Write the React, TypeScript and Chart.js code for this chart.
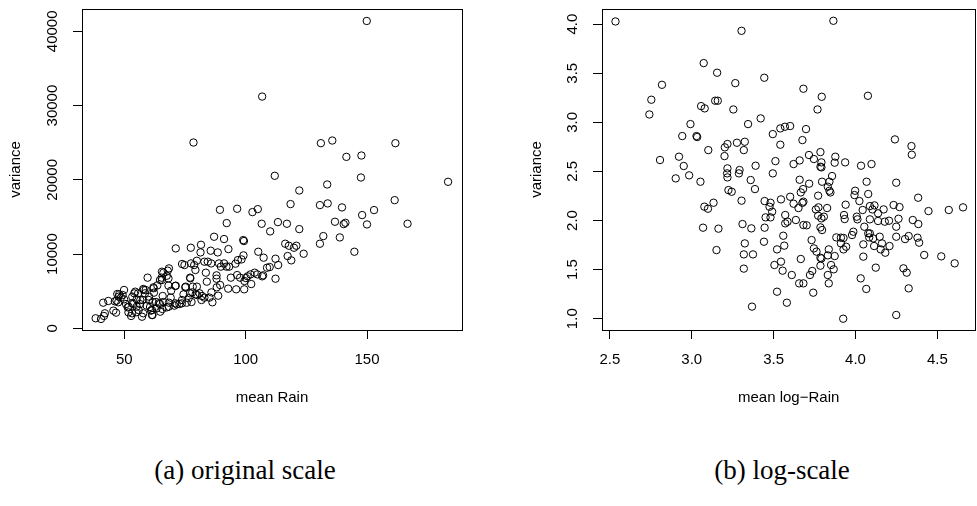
import React, { useEffect, useRef } from "react";
import { Chart, registerables } from "chart.js";

Chart.register(...registerables);

// (a) original scale
const rainMean = [
  149.9, 106.8, 78.5, 131.0, 135.7, 161.7, 141.5, 147.7, 147.5, 112.0, 183.4, 133.6, 122.1, 161.4, 130.6, 133.8,
  118.5, 139.7, 152.9, 148.0, 150.0, 166.7, 136.8, 140.4, 141.1, 138.8, 144.8, 132.0, 130.6, 122.1, 123.9, 116.3,
  117.8, 119.9, 120.9, 117.3, 118.8, 113.3, 117.0, 106.6, 110.1, 102.8, 105.0, 96.5, 89.4, 92.2, 87.0, 91.1,
  99.0, 99.3, 92.9, 88.5, 85.6, 81.6, 77.4, 71.2, 81.4, 105.2, 107.4, 112.3, 113.4, 112.3, 108.8, 109.9,
  106.8, 107.2, 104.8, 103.7, 102.0, 100.8, 102.3, 100.1, 99.5, 99.4, 99.1, 98.3, 96.8, 95.8, 96.5, 97.7,
  96.1, 93.9, 93.2, 92.1, 91.1, 89.8, 89.0, 88.0, 88.0, 89.5, 88.1, 85.9, 86.3, 88.7, 92.8, 85.8,
  84.4, 83.0, 79.9, 78.8, 77.5, 74.8, 79.3, 83.6, 77.1, 84.0, 75.3, 78.2, 79.9, 78.0, 77.1, 79.4,
  81.0, 82.0, 83.0, 81.8, 85.1, 74.4, 77.7, 75.7, 73.7, 72.7, 71.6, 70.6, 67.5, 68.4, 69.1, 69.3,
  71.2, 68.2, 68.2, 67.5, 67.9, 68.4, 66.1, 65.4, 64.7, 63.6, 62.0, 62.2, 65.8, 66.1, 64.7, 63.1,
  61.7, 63.3, 65.7, 60.6, 61.6, 59.6, 57.8, 58.8, 60.2, 57.6, 56.5, 57.8, 54.8, 54.1, 53.3, 55.1,
  55.7, 53.7, 55.1, 52.8, 51.7, 51.4, 50.7, 49.9, 49.3, 49.9, 48.6, 47.5, 47.9, 47.1, 46.8, 46.6,
  45.5, 46.1, 43.4, 41.3, 42.0, 41.6, 40.4, 38.2, 59.2, 61.0, 58.5, 47.7, 54.5, 58.0, 65.5, 65.5,
  62.1, 71.0, 75.1, 77.2, 73.8, 51.8, 53.2, 56.6, 60.1, 64.2, 68.3, 71.0, 73.8, 76.5, 80.0, 53.2,
  55.9, 61.4, 64.8, 57.3, 61.4,
];
const rainVar = [
  41390, 31210, 25020, 24930, 25290, 24930, 23090, 23270, 20310, 20540, 19730, 19370, 18560, 17260, 16590, 16820,
  16730, 16280, 15920, 15250, 13990, 14080, 14350, 14030, 14210, 12240, 10310, 12420, 11390, 13360, 10040, 11390,
  11120, 10850, 11120, 9730, 9150, 14300, 14080, 14080, 13050, 15650, 16050, 16100, 15960, 14170, 12330, 12020,
  11880, 11750, 10670, 10220, 10450, 11250, 10850, 10760, 10220, 10310, 9510, 9370, 8520, 6680, 8160, 8250,
  7000, 7130, 7260, 7490, 7260, 7000, 5960, 6770, 6370, 5250, 9820, 9280, 9190, 8700, 7170, 6820,
  5250, 6820, 8300, 8300, 8740, 8300, 8740, 7130, 6680, 5830, 5520, 4840, 3500, 4390, 5340, 8740,
  8970, 8970, 9100, 8520, 8740, 8520, 7850, 7490, 6820, 6280, 5610, 5610, 5610, 4840, 4710, 4570,
  4710, 4350, 4130, 3810, 4130, 4570, 3540, 3450, 3360, 3270, 3230, 3050, 2820, 3450, 4130, 5070,
  5740, 5740, 6730, 7080, 7760, 8070, 7490, 6820, 6500, 5780, 5520, 4800, 4350, 3540, 3270, 3540,
  3540, 2690, 2600, 2870, 1790, 6820, 5290, 5160, 4260, 3810, 3270, 2020, 2150, 4710, 4260, 3900,
  4710, 3270, 2910, 1660, 2150, 2820, 3270, 3900, 4480, 5160, 4130, 3500, 4570, 4620, 3720, 2110,
  2380, 3630, 3680, 3450, 2020, 1660, 1260, 1350, 3050, 2380, 4710, 4260, 4930, 5160, 7620, 6500,
  5390, 5700, 5520, 6730, 8660, 2910, 3370, 3810, 3810, 3370, 2910, 3370, 3810, 4040, 4480, 2020,
  2460, 2460, 2240, 1560, 1790,
];

// (b) log-scale
const logMean = [
  2.534, 3.865, 3.304, 3.073, 3.155, 3.443, 3.266, 2.818, 2.753, 2.741, 3.682, 3.794, 4.076, 3.057, 3.079, 3.143,
  3.159, 3.254, 3.768, 3.421, 3.344, 2.992, 2.942, 3.029, 3.033, 3.541, 3.569, 3.601, 3.698, 3.495, 3.676, 3.541,
  4.241, 3.276, 3.324, 3.218, 3.202, 3.101, 3.318, 4.342, 4.344, 2.806, 2.922, 3.200, 3.716, 3.786, 3.877, 2.951,
  3.390, 3.511, 3.622, 3.659, 3.746, 3.792, 3.786, 3.792, 3.873, 3.937, 4.034, 4.098, 4.249, 2.902, 2.984, 3.053,
  3.218, 3.216, 3.218, 3.292, 3.288, 3.360, 3.386, 3.495, 3.659, 3.717, 3.796, 3.857, 3.841, 3.831, 3.841, 3.847,
  4.068, 3.224, 3.244, 3.680, 3.666, 3.772, 3.998, 3.994, 4.078, 4.383, 3.601, 3.545, 3.304, 3.133, 3.077, 3.099,
  3.445, 3.481, 3.475, 3.491, 3.622, 3.682, 3.676, 3.652, 3.636, 3.571, 3.571, 3.585, 3.758, 3.774, 3.827, 3.772,
  3.807, 3.792, 3.940, 4.024, 4.044, 4.008, 4.012, 3.930, 3.934, 4.088, 4.116, 4.104, 4.172, 4.233, 4.269, 4.446,
  4.570, 4.657, 4.088, 4.138, 4.138, 4.179, 4.205, 4.263, 4.350, 4.384, 4.249, 4.054, 4.078, 4.088, 4.084, 4.108,
  4.148, 4.114, 4.162, 4.154, 4.182, 4.208, 4.249, 4.303, 4.325, 4.379, 4.389, 4.420, 4.524, 4.606, 4.293, 4.313,
  4.325, 4.249, 3.925, 4.032, 4.066, 4.124, 4.048, 4.048, 3.987, 3.979, 3.943, 3.927, 3.911, 3.927, 3.911, 3.883,
  3.873, 3.867, 3.851, 3.837, 3.831, 3.831, 3.837, 3.786, 3.786, 3.792, 3.796, 3.786, 3.762, 3.746, 3.732, 3.736,
  3.722, 3.742, 3.682, 3.656, 3.666, 3.702, 3.682, 3.611, 3.581, 3.521, 3.545, 3.555, 3.505, 3.521, 3.565, 3.559,
  3.441, 3.445, 3.451, 3.481, 3.368, 3.374, 3.324, 3.318, 3.318, 3.310, 3.364, 3.151, 3.163, 3.069,
];
const logVar = [
  4.027, 4.034, 3.932, 3.603, 3.505, 3.454, 3.399, 3.382, 3.230, 3.080, 3.342, 3.260, 3.270, 3.165, 3.142, 3.220,
  3.220, 3.131, 3.131, 3.040, 2.982, 2.982, 2.860, 2.860, 2.850, 2.938, 2.955, 2.962, 2.931, 2.880, 2.819, 2.772,
  2.826, 2.792, 2.802, 2.779, 2.745, 2.717, 2.717, 2.758, 2.670, 2.616, 2.650, 2.656, 2.667, 2.697, 2.650, 2.555,
  2.558, 2.605, 2.575, 2.612, 2.626, 2.592, 2.548, 2.541, 2.589, 2.592, 2.558, 2.575, 2.385, 2.429, 2.460, 2.395,
  2.531, 2.480, 2.439, 2.514, 2.480, 2.412, 2.320, 2.480, 2.415, 2.375, 2.395, 2.453, 2.395, 2.344, 2.303, 2.286,
  2.395, 2.310, 2.293, 2.320, 2.286, 2.253, 2.303, 2.259, 2.270, 2.232, 2.242, 2.215, 2.202, 2.181, 2.141, 2.120,
  2.198, 2.181, 2.140, 2.090, 2.171, 2.192, 2.180, 2.127, 2.005, 2.056, 1.971, 1.988, 2.113, 2.134, 2.127, 2.049,
  2.039, 2.022, 2.161, 2.198, 2.107, 2.039, 2.012, 2.056, 2.015, 2.147, 2.154, 2.113, 2.113, 2.158, 2.137, 2.096,
  2.107, 2.134, 2.012, 1.995, 2.073, 1.988, 1.998, 2.018, 2.005, 1.964, 1.937, 1.937, 1.869, 1.869, 1.828, 1.818,
  1.835, 1.740, 1.767, 1.706, 1.672, 1.740, 1.835, 1.811, 1.842, 1.825, 1.774, 1.649, 1.635, 1.564, 1.513, 1.469,
  1.309, 1.038, 1.000, 1.411, 1.303, 1.520, 1.632, 1.757, 1.886, 1.852, 1.733, 1.706, 1.767, 1.822, 1.825, 1.828,
  1.638, 1.503, 1.547, 1.706, 1.645, 1.445, 1.360, 1.540, 1.621, 1.614, 1.903, 1.930, 1.683, 1.716, 1.801, 1.486,
  1.445, 1.265, 1.360, 1.360, 1.608, 1.951, 1.954, 1.445, 1.163, 1.275, 1.581, 1.489, 1.547, 1.706, 1.744, 1.845,
  1.784, 1.927, 2.032, 2.032, 1.123, 1.655, 1.767, 1.655, 1.510, 1.964, 1.920, 1.699, 1.917, 1.927,
];

const rainTicksX = [50, 100, 150];
const rainTicksY = [0, 10000, 20000, 30000, 40000];
const logTicksX = [2.5, 3.0, 3.5, 4.0, 4.5];
const logTicksY = [1.0, 1.5, 2.0, 2.5, 3.0, 3.5, 4.0];

const FONT = "'Liberation Sans', Arial, Helvetica, sans-serif";

const rPlotPlugin = {
  id: "rPlot",
  afterDraw(chart: any) {
    const { ctx, chartArea: a } = chart;
    const opts = chart.options.plugins.rPlot || {};
    ctx.save();
    ctx.strokeStyle = "#000";
    ctx.lineWidth = 1;
    ctx.strokeRect(Math.round(a.left) + 0.5, Math.round(a.top) + 0.5, Math.round(a.right - a.left), Math.round(a.bottom - a.top));
    const ys = chart.scales.y;
    ctx.fillStyle = "#000";
    ctx.font = "15px " + FONT;
    ctx.textAlign = "center";
    ctx.textBaseline = "middle";
    ys.ticks.forEach((t: any) => {
      const y = ys.getPixelForValue(t.value);
      ctx.save();
      ctx.translate(a.left - (opts.labelOffset || 29), y);
      ctx.rotate(-Math.PI / 2);
      ctx.fillText(String(t.label), 0, 0);
      ctx.restore();
    });
    ctx.restore();
  },
};

function makeConfig(o: any) {
  return {
    type: "scatter",
    data: {
      datasets: [
        {
          data: o.xs.map((x: number, i: number) => ({ x, y: o.ys[i] })),
          pointStyle: "circle",
          pointRadius: 3.7,
          pointHoverRadius: 3.7,
          pointBorderWidth: 1,
          borderColor: "#000",
          backgroundColor: "rgba(0,0,0,0)",
        },
      ],
    },
    options: {
      responsive: false,
      animation: false,
      events: [],
      layout: { padding: o.padding },
      plugins: {
        legend: { display: false },
        tooltip: { enabled: false },
        rPlot: { labelOffset: 29 },
      },
      scales: {
        x: {
          type: "linear",
          min: o.xMin,
          max: o.xMax,
          afterBuildTicks: (s: any) => {
            s.ticks = o.xTicks.map((v: number) => ({ value: v }));
          },
          afterFit: (s: any) => {
            s.height = o.xHeight;
          },
          border: { display: false },
          grid: { drawOnChartArea: false, drawTicks: true, tickLength: 9, tickColor: "#000", tickWidth: 1, color: "#000" },
          ticks: {
            color: "#000",
            font: { family: FONT, size: 15 },
            padding: 12,
            maxRotation: 0,
            autoSkip: false,
            callback: o.xFmt,
          },
          title: {
            display: true,
            text: o.xTitle,
            color: "#000",
            font: { family: FONT, size: 15 },
            padding: { top: 0, bottom: 13 },
          },
        },
        y: {
          type: "linear",
          min: o.yMin,
          max: o.yMax,
          afterBuildTicks: (s: any) => {
            s.ticks = o.yTicks.map((v: number) => ({ value: v }));
          },
          afterFit: (s: any) => {
            s.width = o.yWidth;
          },
          border: { display: false },
          grid: { drawOnChartArea: false, drawTicks: true, tickLength: 9, tickColor: "#000", tickWidth: 1, color: "#000" },
          ticks: { display: false, callback: o.yFmt },
          title: {
            display: true,
            text: "variance",
            color: "#000",
            font: { family: FONT, size: 15 },
            padding: { top: o.yTitlePad, bottom: 0 },
          },
        },
      },
    },
    plugins: [rPlotPlugin],
  };
}

export default function App() {
  const refA = useRef<HTMLCanvasElement>(null);
  const refB = useRef<HTMLCanvasElement>(null);

  useEffect(() => {
    document.body.style.margin = "0";
    document.body.style.overflow = "hidden";
    const a = new Chart(
      refA.current as HTMLCanvasElement,
      makeConfig({
        xs: rainMean,
        ys: rainVar,
        xMin: 32.57,
        xMax: 189.14,
        yMin: -229,
        yMax: 43003,
        xTicks: rainTicksX,
        yTicks: rainTicksY,
        xFmt: (v: any) => String(v),
        yFmt: (v: any) => String(v),
        xTitle: "mean Rain",
        padding: { left: 0, top: 9, right: 28, bottom: 0 },
        xHeight: 90,
        yWidth: 82,
        yTitlePad: 7,
      }) as any
    );
    const b = new Chart(
      refB.current as HTMLCanvasElement,
      makeConfig({
        xs: logMean,
        ys: logVar,
        xMin: 2.4517,
        xMax: 4.732,
        yMin: 0.885,
        yMax: 4.154,
        xTicks: logTicksX,
        yTicks: logTicksY,
        xFmt: (v: any) => Number(v).toFixed(1),
        yFmt: (v: any) => Number(v).toFixed(1),
        xTitle: "mean log\u2212Rain",
        padding: { left: 0, top: 9, right: 0, bottom: 0 },
        xHeight: 90,
        yWidth: 112,
        yTitlePad: 37.7,
      }) as any
    );
    return () => {
      a.destroy();
      b.destroy();
    };
  }, []);

  const cap: React.CSSProperties = {
    position: "absolute",
    top: 455,
    width: 490,
    textAlign: "center",
    fontFamily: "'Liberation Serif', 'DejaVu Serif', serif",
    fontSize: 27,
    lineHeight: "30px",
    color: "#000",
  };

  return (
    <div style={{ position: "relative", width: 977, height: 506, overflow: "hidden", background: "#fff" }}>
      <canvas ref={refA} width={490} height={420} style={{ position: "absolute", left: 0, top: 0, width: 490, height: 420 }} />
      <canvas ref={refB} width={490} height={420} style={{ position: "absolute", left: 490, top: 0, width: 490, height: 420 }} />
      <div style={{ ...cap, left: 0 }}>(a) original scale</div>
      <div style={{ ...cap, left: 537 }}>(b) log-scale</div>
    </div>
  );
}
